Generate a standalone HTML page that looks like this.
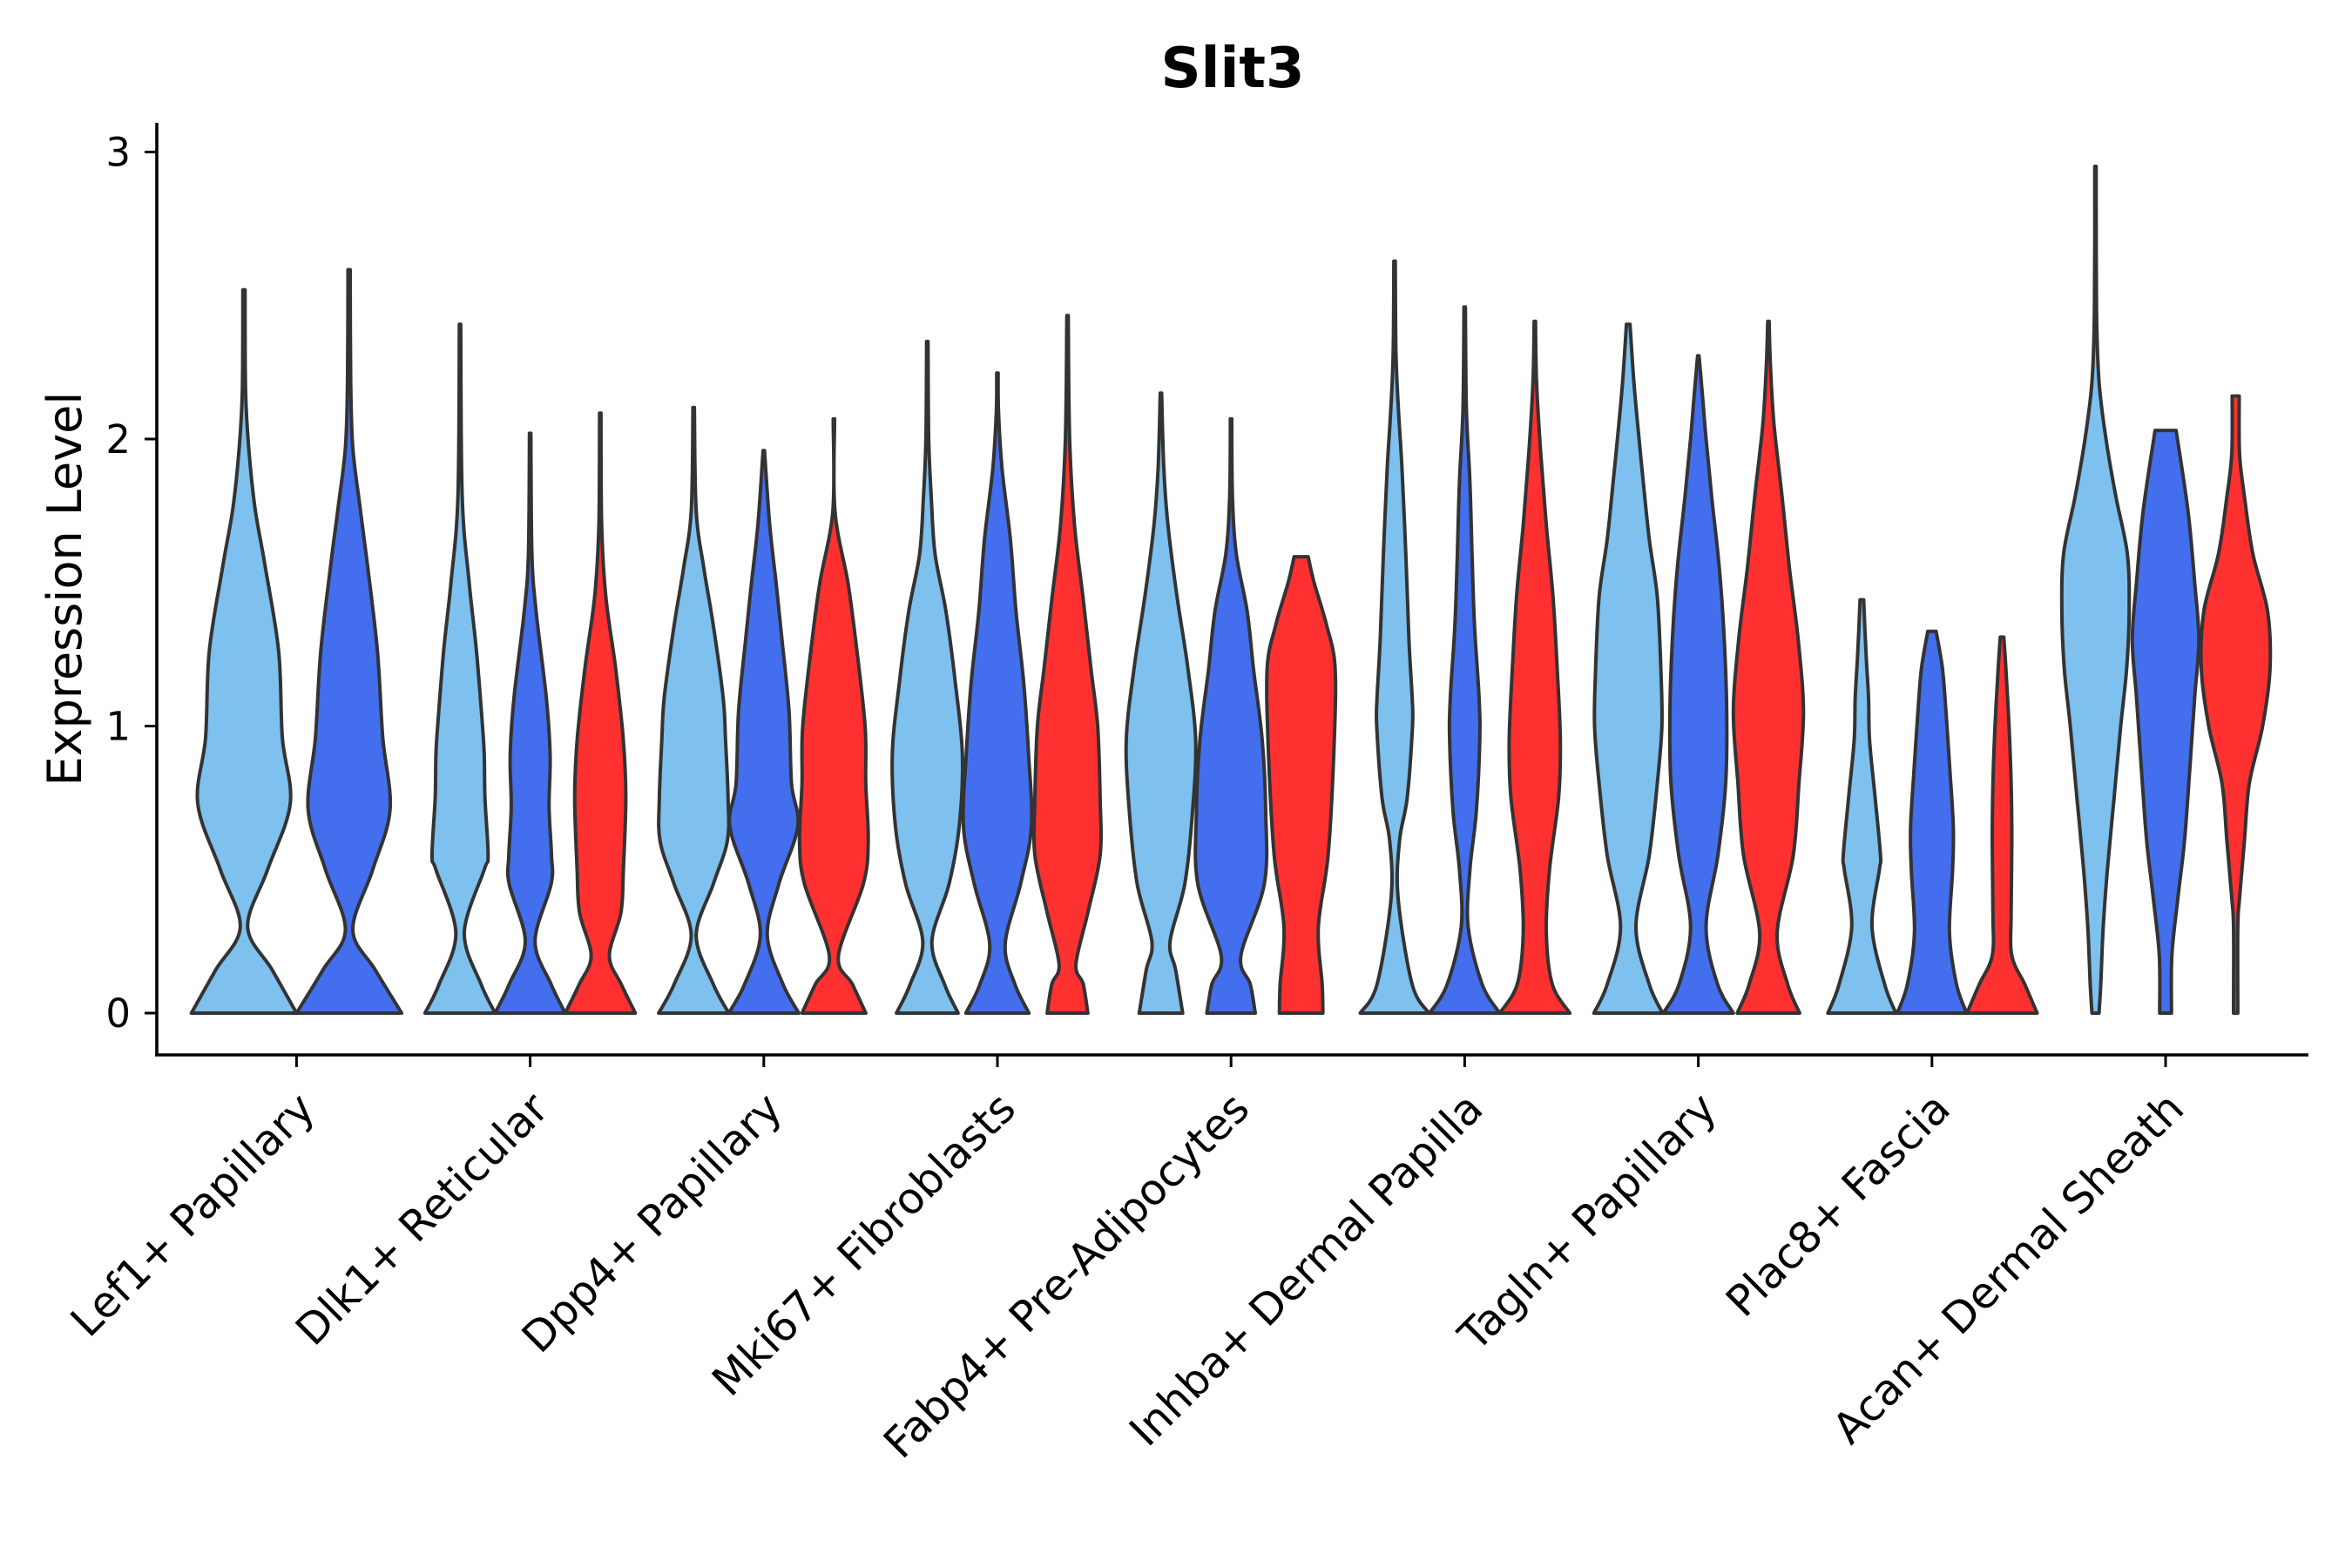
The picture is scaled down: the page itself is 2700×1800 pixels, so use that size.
<!DOCTYPE html>
<html><head><meta charset="utf-8"><style>
html,body{margin:0;padding:0;background:#fff;}
svg{display:block;font-family:"DejaVu Sans","Liberation Sans",sans-serif;}
</style></head><body>
<svg id="chart" width="2700" height="1800" viewBox="0 0 2700 1800" xmlns="http://www.w3.org/2000/svg">
<rect x="0" y="0" width="2700" height="1800" fill="#fff"/>
<text x="1415" y="100" text-anchor="middle" font-weight="bold" font-size="64">Slit3</text>
<text transform="translate(93,676) rotate(-90)" text-anchor="middle" font-size="54">Expression Level</text>
<g id="violins"></g>
<g id="axes"></g>
</svg>
<script>
const categories = ["Lef1+ Papillary","Dlk1+ Reticular","Dpp4+ Papillary","Mki67+ Fibroblasts","Fabp4+ Pre-Adipocytes","Inhba+ Dermal Papilla","Tagln+ Papillary","Plac8+ Fascia","Acan+ Dermal Sheath"];
const yTicks = [0,1,2,3];
const seriesNames = ["light","blue","red"];
// Each violin: [value, relative half-width] profile from 0 up to max value
const lightProfiles = [
 [[0,1],[0.15,0.54],[0.3,0.07],[0.5,0.45],[0.73,0.88],[0.96,0.73],[1.26,0.66],[1.56,0.4],[1.76,0.21],[1.97,0.09],[2.17,0.03],[2.52,0.02]],
 [[0,1],[0.1,0.6],[0.28,0.12],[0.5,0.69],[0.55,0.8],[0.75,0.71],[0.9,0.69],[1.0,0.64],[1.26,0.47],[1.5,0.26],[1.8,0.06],[2.4,0.02]],
 [[0,1],[0.1,0.56],[0.27,0.07],[0.45,0.56],[0.6,0.96],[0.75,0.98],[0.95,0.91],[1.1,0.84],[1.35,0.56],[1.55,0.29],[1.75,0.07],[2.11,0.02]],
 [[0,0.88],[0.1,0.49],[0.25,0.13],[0.45,0.62],[0.65,0.91],[0.9,1],[1.15,0.8],[1.4,0.53],[1.6,0.22],[1.8,0.11],[2.0,0.04],[2.34,0.02]],
 [[0,0.62],[0.15,0.42],[0.25,0.26],[0.45,0.68],[0.7,0.9],[0.95,0.99],[1.2,0.77],[1.45,0.46],[1.7,0.2],[1.9,0.08],[2.16,0.02]],
 [[0,0.98],[0.1,0.5],[0.4,0.1],[0.6,0.14],[0.75,0.36],[1.0,0.51],[1.1,0.5],[1.3,0.41],[1.6,0.32],[1.9,0.21],[2.1,0.11],[2.3,0.04],[2.62,0.02]],
 [[0,0.98],[0.1,0.6],[0.3,0.22],[0.55,0.6],[0.8,0.83],[1.0,0.96],[1.2,0.93],[1.45,0.83],[1.65,0.6],[1.85,0.43],[2.05,0.27],[2.2,0.16],[2.4,0.05]],
 [[0,0.97],[0.1,0.65],[0.3,0.29],[0.5,0.5],[0.55,0.53],[0.75,0.38],[0.95,0.22],[1.1,0.19],[1.25,0.12],[1.44,0.05]],
 [[0,0.1],[0.1,0.15],[0.3,0.22],[0.5,0.34],[0.75,0.53],[1.0,0.72],[1.2,0.89],[1.4,0.96],[1.6,0.91],[1.8,0.58],[2.0,0.3],[2.2,0.1],[2.45,0.03],[2.95,0.02]]
];
const blueProfiles = [
 [[0,1],[0.15,0.5],[0.29,0.07],[0.5,0.45],[0.71,0.78],[0.96,0.64],[1.26,0.54],[1.56,0.35],[1.76,0.21],[1.97,0.07],[2.2,0.03],[2.59,0.02]],
 [[0,1],[0.1,0.6],[0.25,0.14],[0.45,0.6],[0.55,0.61],[0.72,0.54],[0.9,0.57],[1.1,0.46],[1.4,0.17],[1.6,0.05],[2.02,0.02]],
 [[0,1],[0.1,0.55],[0.27,0.1],[0.45,0.43],[0.65,0.97],[0.8,0.79],[1.05,0.72],[1.3,0.52],[1.5,0.35],[1.7,0.17],[1.96,0.02]],
 [[0,0.9],[0.1,0.5],[0.24,0.22],[0.45,0.66],[0.65,0.97],[0.9,0.89],[1.15,0.75],[1.4,0.53],[1.65,0.37],[1.9,0.13],[2.1,0.03],[2.23,0.02]],
 [[0,0.69],[0.1,0.55],[0.2,0.28],[0.45,0.95],[0.7,0.99],[0.95,0.89],[1.2,0.64],[1.4,0.46],[1.6,0.15],[1.8,0.04],[2.07,0.02]],
 [[0,1],[0.1,0.5],[0.3,0.1],[0.5,0.15],[0.7,0.33],[0.95,0.43],[1.1,0.41],[1.35,0.28],[1.6,0.21],[1.85,0.15],[2.1,0.05],[2.46,0.02]],
 [[0,1],[0.1,0.55],[0.3,0.22],[0.55,0.56],[0.8,0.78],[1.05,0.81],[1.3,0.74],[1.55,0.6],[1.8,0.38],[2.0,0.22],[2.15,0.12],[2.29,0.02]],
 [[0,0.99],[0.1,0.7],[0.28,0.5],[0.5,0.59],[0.65,0.61],[0.85,0.51],[1.05,0.4],[1.2,0.3],[1.33,0.12]],
 [[0,0.17],[0.2,0.18],[0.4,0.35],[0.6,0.54],[0.85,0.69],[1.1,0.83],[1.3,0.95],[1.5,0.83],[1.75,0.64],[2.03,0.3]]
];
const redProfiles = [
 null,
 [[0,1],[0.1,0.6],[0.2,0.26],[0.35,0.59],[0.5,0.66],[0.75,0.73],[0.95,0.66],[1.2,0.44],[1.45,0.16],[1.7,0.04],[2.09,0.02]],
 [[0,0.91],[0.1,0.53],[0.2,0.13],[0.45,0.84],[0.6,0.98],[0.8,0.91],[1.0,0.89],[1.3,0.62],[1.5,0.4],[1.75,0.03],[2.07,0.02]],
 [[0,0.58],[0.1,0.45],[0.17,0.24],[0.35,0.58],[0.55,0.93],[0.75,0.93],[1.0,0.86],[1.2,0.67],[1.45,0.44],[1.7,0.2],[2.0,0.06],[2.43,0.02]],
 [[0,0.62],[0.1,0.6],[0.3,0.49],[0.55,0.77],[0.9,0.93],[1.2,0.97],[1.35,0.73],[1.5,0.37],[1.59,0.2]],
 [[0,1],[0.1,0.5],[0.28,0.33],[0.5,0.42],[0.75,0.68],[0.95,0.73],[1.2,0.64],[1.45,0.52],[1.7,0.33],[1.95,0.17],[2.2,0.05],[2.41,0.02]],
 [[0,0.89],[0.1,0.55],[0.28,0.25],[0.55,0.71],[0.8,0.87],[1.05,1],[1.3,0.85],[1.55,0.6],[1.8,0.39],[2.05,0.16],[2.25,0.06],[2.41,0.02]],
 [[0,1],[0.1,0.65],[0.2,0.28],[0.35,0.26],[0.6,0.28],[0.8,0.26],[1.0,0.2],[1.2,0.11],[1.31,0.05]],
 [[0,0.06],[0.3,0.06],[0.4,0.11],[0.6,0.25],[0.8,0.39],[1.0,0.77],[1.2,0.98],[1.4,0.91],[1.6,0.49],[1.8,0.25],[1.95,0.11],[2.15,0.1]]
];
const colors = {light:"#7EC0EE", blue:"#436EEE", red:"#FF3030"};

const NS = "http://www.w3.org/2000/svg";
const X0 = 340.4, XSTEP = 268.2, Y0 = 1163, YUNIT = 329.5;
function xScale(i){ return X0 + i*XSTEP; }
function yScale(v){ return Y0 - v*YUNIT; }

function catmull(pts){
  let d = "";
  for(let i=0;i<pts.length-1;i++){
    const p0 = pts[Math.max(0,i-1)], p1 = pts[i], p2 = pts[i+1], p3 = pts[Math.min(pts.length-1,i+2)];
    const c1x = p1[0] + (p2[0]-p0[0])/6, c1y = p1[1] + (p2[1]-p0[1])/6;
    const c2x = p2[0] - (p3[0]-p1[0])/6, c2y = p2[1] - (p3[1]-p1[1])/6;
    d += " C"+c1x.toFixed(1)+","+c1y.toFixed(1)+" "+c2x.toFixed(1)+","+c2y.toFixed(1)+" "+p2[0].toFixed(1)+","+p2[1].toFixed(1);
  }
  return d;
}

const vg = document.getElementById("violins");
const allProfiles = [lightProfiles, blueProfiles, redProfiles];
categories.forEach((cat, ci) => {
  const present = seriesNames.filter((s, si) => allProfiles[si][ci]);
  const n = present.length;
  const slot = 0.9*XSTEP/n;
  present.forEach((s, k) => {
    const si = seriesNames.indexOf(s);
    const prof = allProfiles[si][ci];
    const cx = xScale(ci) - 0.45*XSTEP + slot*(k+0.5);
    const hw = slot/2;
    const right = prof.map(p => [cx + p[1]*hw, yScale(p[0])]);
    const left = prof.slice().reverse().map(p => [cx - p[1]*hw, yScale(p[0])]);
    let d = "M"+right[0][0].toFixed(1)+","+right[0][1].toFixed(1) + catmull(right);
    d += " L"+left[0][0].toFixed(1)+","+left[0][1].toFixed(1) + catmull(left) + " Z";
    const path = document.createElementNS(NS, "path");
    path.setAttribute("d", d);
    path.setAttribute("fill", colors[s]);
    path.setAttribute("stroke", "#333333");
    path.setAttribute("stroke-width", "4");
    path.setAttribute("stroke-linejoin", "round");
    
    
    vg.appendChild(path);
  });
});

const ag = document.getElementById("axes");
function mk(tag, attrs){ const e = document.createElementNS(NS, tag); for(const k in attrs) e.setAttribute(k, attrs[k]); ag.appendChild(e); return e; }
const yl = mk("line",{x1:180,y1:141,x2:180,y2:1211,stroke:"#000","stroke-width":3.6});


const xl = mk("line",{x1:178,y1:1211,x2:2650,y2:1211,stroke:"#000","stroke-width":3.6});


yTicks.forEach(t => {
  const y = yScale(t);
  const tk = mk("line",{x1:166,y1:y,x2:180,y2:y,stroke:"#000","stroke-width":3});
  
  
  const tx = mk("text",{x:150,y:y+16,"text-anchor":"end","font-size":45,fill:"#000"});
  tx.textContent = String(t);
  
  
});
categories.forEach((c, i) => {
  const x = xScale(i);
  const tk = mk("line",{x1:x,y1:1211,x2:x,y2:1225,stroke:"#000","stroke-width":3});
  
  
  const ax = x - 2, ay = 1250;
  const tx = mk("text",{x:ax,y:ay,"text-anchor":"end","dominant-baseline":"hanging","font-size":49,fill:"#000",transform:"rotate(-45 "+ax+" "+ay+")"});
  tx.textContent = c;
  
  
});
</script>
</body></html>
